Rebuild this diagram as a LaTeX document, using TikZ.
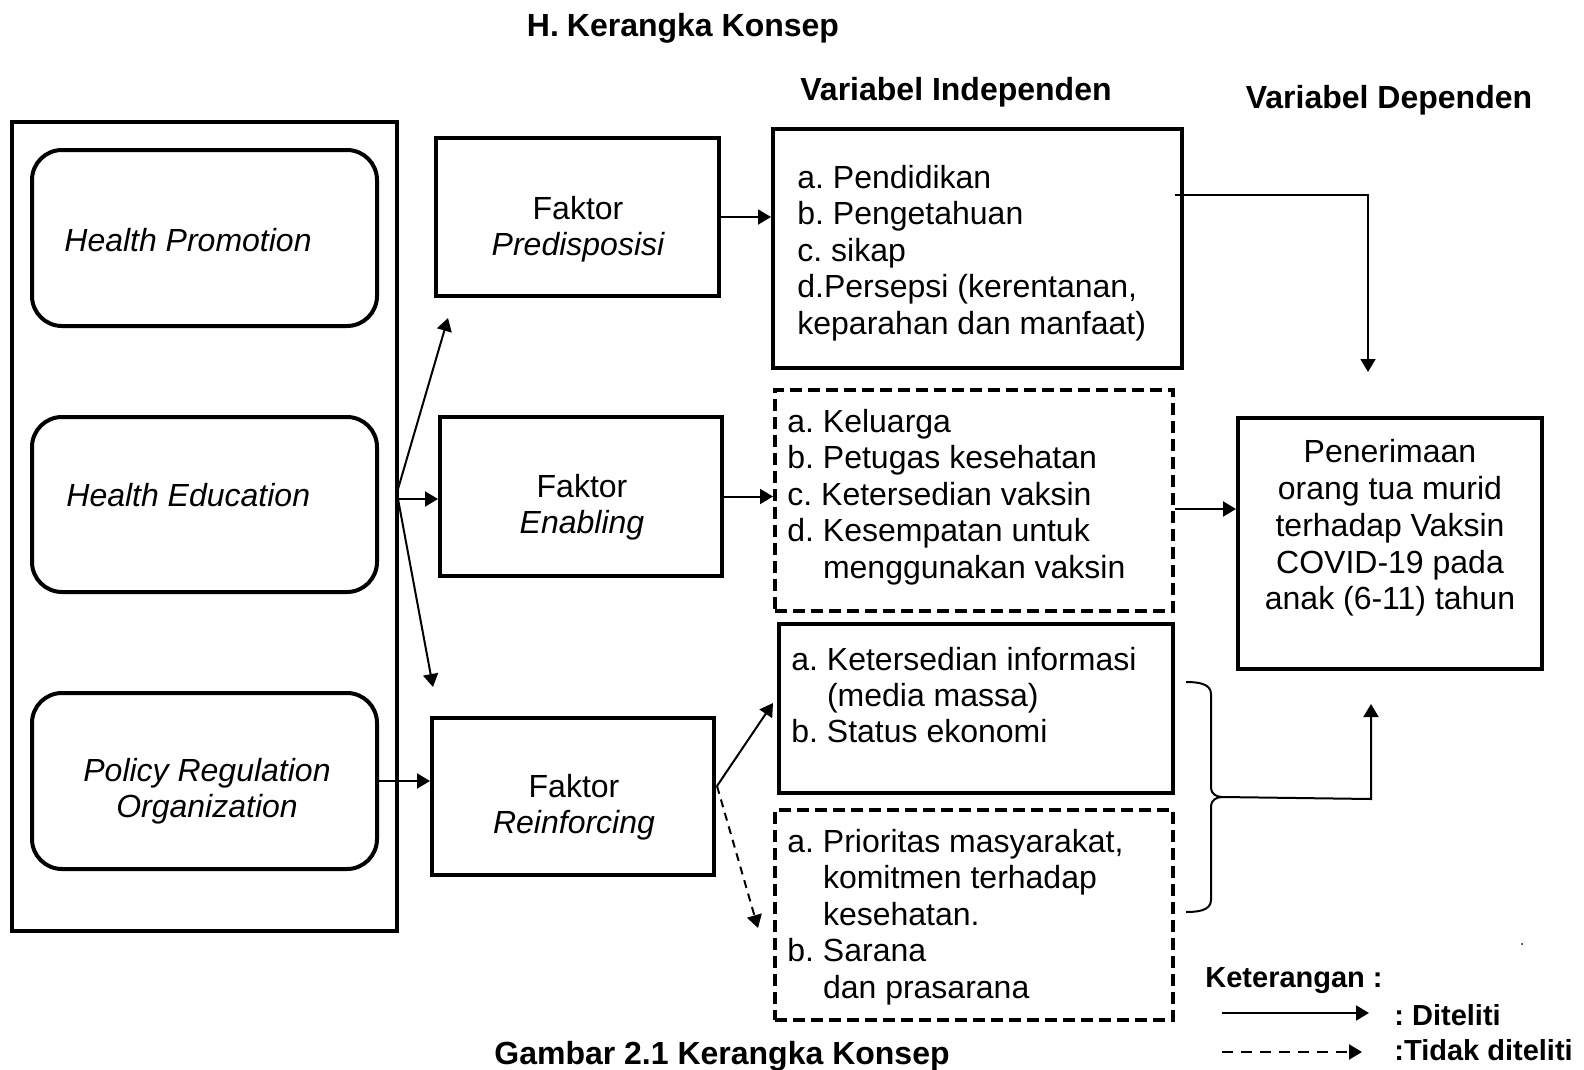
\documentclass[tikz,border=0pt]{standalone}
\usepackage{fontspec}
\setmainfont{Liberation Sans}
\usetikzlibrary{arrows.meta,fit}
\frenchspacing
\begin{document}
\begin{tikzpicture}[x=0.5pt,y=-0.5pt,
  every node/.style={font=\fontsize{16}{18.2}\selectfont, inner sep=0pt},
  sbox/.style={draw, line width=2pt, inner sep=0pt},
  dbox/.style={draw, line width=2pt, inner sep=0pt, dash pattern=on 6pt off 3pt},
  rbox/.style={draw, line width=2pt, inner sep=0pt, rounded corners=15pt},
  arr/.style={line width=1pt, -{Triangle[length=6.5pt,width=7.5pt]}},
  darr/.style={arr, dash pattern=on 4pt off 3pt},
  ldarr/.style={arr, dash pattern=on 5.5pt off 4pt},
  ttl/.style={font=\fontsize{16}{18.2}\selectfont\bfseries},
  leg/.style={font=\fontsize{14.5}{17}\selectfont\bfseries},
  txt/.style={align=left},
]
\useasboundingbox (0,0) rectangle (1584,1070);

% titles
\node[ttl] (title) at (683,28) {H.\hspace{4pt}Kerangka Konsep};
\node[ttl] (vind) at (956,92) {Variabel Independen};
\node[ttl] (vdep) at (1389,100) {Variabel Dependen};
\node[ttl] (cap) at (722,1056) {Gambar 2.1 Kerangka Konsep};

% left column
\node[sbox, fit={(12,122)(397,931)}] (outer) {};
\node[rbox, fit={(32,150)(377,326)}] (hp) {};
\node[rbox, fit={(32,417)(377,592)}] (he) {};
\node[rbox, fit={(32,693)(377,869)}] (pro) {};
\node[anchor=west] (hpt) at (64,240) {\itshape Health Promotion};
\node[anchor=west] (het) at (66,495) {\itshape Health Education};
\node[align=center] (prot) at (207,791) {\itshape Policy Regulation\\\itshape Organization};

% faktor boxes
\node[sbox, fit={(436,138)(719,296)}] (fp) {};
\node[sbox, fit={(440,417)(722,576)}] (fe) {};
\node[sbox, fit={(432,718)(714,875)}] (fr) {};
\node[align=center] (fpt) at (578,229) {Faktor\\\itshape Predisposisi};
\node[align=center] (fet) at (582,507) {Faktor\\\itshape Enabling};
\node[align=center] (frt) at (574,807) {Faktor\\\itshape Reinforcing};

% variable boxes
\node[sbox, fit={(773,129)(1182,368)}] (b1) {};
\node[dbox, fit={(775,390)(1173,611)}] (b2) {};
\node[sbox, fit={(779,624)(1173,793)}] (b3) {};
\node[dbox, fit={(775,810)(1173,1020)}] (b4) {};
\node[txt, anchor=west] (b1t) at (797,253) {a. Pendidikan\\b. Pengetahuan\\c. sikap\\d.Persepsi (kerentanan,\\keparahan dan manfaat)};
\node[txt, anchor=west] (b2t) at (787,497) {a. Keluarga\\b. Petugas kesehatan\\c. Ketersedian vaksin\\d. Kesempatan untuk\\\hspace*{17.8pt}menggunakan vaksin};
\node[txt, anchor=west] (b3t) at (791,695) {a. Ketersedian informasi\\\hspace*{17.8pt}(media massa)\\b. Status ekonomi};
\node[txt, anchor=west] (b4t) at (787,917) {a. Prioritas masyarakat,\\\hspace*{17.8pt}komitmen terhadap\\\hspace*{17.8pt}kesehatan.\\b. Sarana\\\hspace*{17.8pt}dan prasarana};

% dependent box
\node[sbox, fit={(1238,418)(1542,669)}] (dep) {};
\node[align=center, font=\fontsize{16}{18.4}\selectfont] (dept) at (1390,528) {Penerimaan\\orang tua murid\\terhadap Vaksin\\COVID-19 pada\\anak (6-11) tahun};

% fan arrows from outer box
\coordinate (fanA) at (398,489);
\coordinate (fanB) at (398,499);
\coordinate (upTip) at (448,318);
\coordinate (dnTip) at (433,687);
\draw[arr] (fanA) -- (upTip);
\draw[arr] (fanB) -- (fanB -| fe.west);
\draw[arr] (fanB) -- (dnTip);

% faktor -> variables
\draw[arr] (fp.east) -- (fp.east -| b1.west);
\draw[arr] (fe.east) -- (fe.east -| b2.west);
\draw[arr] (pro.east) -- (pro.east -| fr.west);
\coordinate (rO) at (717,786);
\coordinate (rS) at (773,703);
\coordinate (rD) at (758,928);
\draw[arr] (rO) -- (rS);
\draw[darr] (rO) -- (rD);

% variables -> dependent
\coordinate (k1) at (1175,195);
\coordinate (k2) at (1368,195);
\coordinate (k3) at (1368,372);
\draw[arr] (k1) -- (k2) -- (k3);
\coordinate (mid) at (0,509);
\draw[arr] (b2.east |- mid) -- (dep.west |- mid);

% brace
\coordinate (br) at (1222,797);
\draw[line width=1pt] (1186,682) to[out=0,in=90] (1211,694) -- (1211,788) to[out=-90,in=180] (br)
  to[out=180,in=90] (1211,806) -- (1211,900) to[out=-90,in=0] (1186,912);
\coordinate (bk) at (1371,799);
\coordinate (bt) at (1371,704);
\draw[arr] (br) -- (bk) -- (bt);

% stray dot
\fill (1522,944) circle (1);

% legend
\node[leg, anchor=west] (ket) at (1205,981) {Keterangan :};
\coordinate (l1a) at (1222,1013);
\coordinate (l1b) at (1369,1013);
\coordinate (l2a) at (1222,1052);
\coordinate (l2b) at (1362,1052);
\draw[arr] (l1a) -- (l1b);
\draw[ldarr] (l2a) -- (l2b);
\node[leg, anchor=west] (l1t) at (1394,1015) {: Diteliti};
\node[leg, anchor=west] (l2t) at (1394,1050) {:Tidak diteliti};
\end{tikzpicture}
\end{document}
